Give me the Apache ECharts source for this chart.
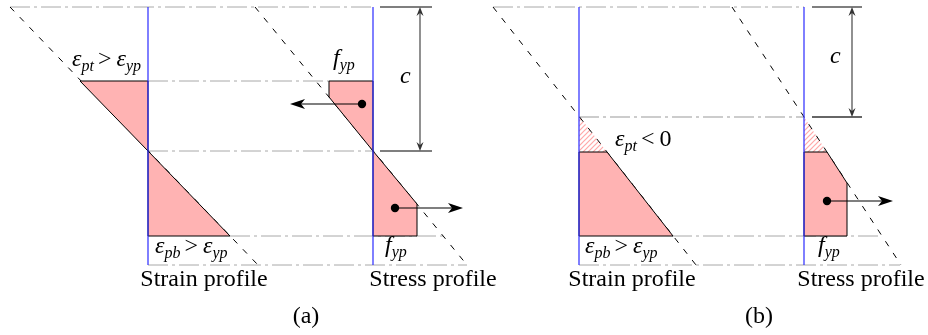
<!DOCTYPE html>
<html><head><meta charset="utf-8">
<script src="https://cdn.jsdelivr.net/npm/echarts@6/dist/echarts.min.js"></script>
<style>html,body{margin:0;padding:0;background:#fff}#c{width:928px;height:335px}</style>
</head><body><div id="c"></div>
<script>
// ---- data (in diagram units = pixel grid of the reference) ----
const refLines = [[10,7,373,7],[148,81,329,81],[148,151,373,151],[230,236,443,236],[148,265,467,265],
  [493,7,804,7],[672,236,882,236],[579,265,900,265]];
const refLinesThick = [[579,117,804,117]];
const neutralAxes = [[148,7,148,265],[373,7,373,265],[579,7,579,265],[804,7,804,265]];
const profileLines = [[10,7,258,265],[255,7,467,265],[493,7,696,265],[732,7,901,265]];
const filledRegions = [
  [[80,81],[148,81],[148,151]],
  [[148,151],[148,236],[230,236]],
  [[329,81],[373,81],[373,151],[329,97]],
  [[373,151],[417,204],[417,236],[373,236]],
  [[579,152],[607,152],[673,236],[579,236]],
  [[804,152],[827,152],[847,183],[847,236],[804,236]]
];
const hatchedRegions = [
  [[579,116],[607,152],[579,152]],
  [[804,117],[827,152],[804,152]]
];
const forces = [[362,104,290,104],[395,208,463,208],[827,201,893,201]];
const dimensions = [[420,7,151],[852,7,117]];
const dimTicks = [[380,432,7],[380,432,151],[812,862,7],[812,862,117]];
const dimTickColors = ['#000','#000','#000','#666'];
const mathLabels = [
  [72,68,'ε|m','pt|s','>|r','ε|m','yp|s'],
  [155,255,'ε|m','pb|s','>|r','ε|m','yp|s'],
  [615,148,'ε|m','pt|s','<|r','0|n'],
  [585,255,'ε|m','pb|s','>|r','ε|m','yp|s'],
  [333,67,'f|m','yp|s'],
  [385,254,'f|m','yp|s'],
  [818,254,'f|m','yp|s'],
  [400,85,'c|m'],
  [830,65,'c|m']
];
const plainLabels = [['Strain profile',204,288],['Stress profile',433,288],['Strain profile',632,288],
  ['Stress profile',861,288],['(a)',306,325],['(b)',759,325]];

// ---- rendering ----
const FAM = "'Liberation Serif','DejaVu Serif',serif";
const measureCtx = document.createElement('canvas').getContext('2d');
function tw(t, font){ measureCtx.font = font; return measureCtx.measureText(t).width; }
const hc = document.createElement('canvas'); hc.width = 5; hc.height = 5;
(function(){ const g = hc.getContext('2d'); g.fillStyle = 'rgba(255,255,255,0)'; g.strokeStyle = '#ffa8a8'; g.lineWidth = 1.2; g.beginPath();
  g.moveTo(0,5); g.lineTo(5,0); g.moveTo(-1,1); g.lineTo(1,-1); g.moveTo(4,6); g.lineTo(6,4); g.stroke(); })();

const chart = echarts.init(document.getElementById('c'), null, {renderer:'canvas'});
function segSeries(arr, style, z){
  return {type:'custom', coordinateSystem:'cartesian2d', clip:false, z:z, silent:true,
    data: arr.map((d,i)=>[d[0],d[1],d[2],d[3],i]),
    renderItem:(p,api)=>{ const a = api.coord([api.value(0),api.value(1)]), b = api.coord([api.value(2),api.value(3)]);
      return {type:'line', shape:{x1:a[0],y1:a[1],x2:b[0],y2:b[1]}, style:Object.assign({fill:null}, style)}; }};
}
function polySeries(arr, style, z){
  return {type:'custom', coordinateSystem:'cartesian2d', clip:false, z:z, silent:true,
    data: arr.map((d,i)=>[d[0][0],d[0][1],i]),
    renderItem:(p,api)=>({type:'polygon', shape:{points: arr[p.dataIndex].map(pt=>api.coord(pt))}, style: style})};
}
function arrowHead(tip, dir, len, hw, notch, fill){
  const n = [-dir[1], dir[0]];
  return {type:'polygon', shape:{points:[tip,
    [tip[0]-dir[0]*len+n[0]*hw, tip[1]-dir[1]*len+n[1]*hw],
    [tip[0]-dir[0]*notch, tip[1]-dir[1]*notch],
    [tip[0]-dir[0]*len-n[0]*hw, tip[1]-dir[1]*len-n[1]*hw]]}, style:{fill:fill}};
}
const series = [
  segSeries(refLines, {stroke:'#a8a8a8', lineWidth:1, lineDash:[20,4,3,4]}, 1),
  segSeries(refLinesThick, {stroke:'#cccccc', lineWidth:2.2, lineDash:[20,4,3,4]}, 1),
  polySeries(hatchedRegions, {fill:{image:hc, repeat:'repeat'}}, 2),
  segSeries(profileLines, {stroke:'#000', lineWidth:1, lineDash:[6,8]}, 3),
  polySeries(filledRegions, {fill:'#ffb3b3', stroke:'#000', lineWidth:1, lineJoin:'miter'}, 4),
  segSeries(neutralAxes, {stroke:'#2a2aff', lineWidth:1.2}, 5),
  {type:'custom', coordinateSystem:'cartesian2d', clip:false, z:6, silent:true,
    data: dimTicks.map((d,i)=>[d[0],d[2],d[1],i]),
    renderItem:(p,api)=>{ const a = api.coord([api.value(0),api.value(1)]), b = api.coord([api.value(2),api.value(1)]);
      return {type:'line', shape:{x1:a[0],y1:a[1],x2:b[0],y2:b[1]}, style:{stroke:dimTickColors[p.dataIndex], lineWidth: p.dataIndex===3?2:1.2}}; }},
  {type:'custom', coordinateSystem:'cartesian2d', clip:false, z:6, silent:true,
    data: dimensions.map((d,i)=>[d[0],d[1],d[2],i]),
    renderItem:(p,api)=>{ const a = api.coord([api.value(0),api.value(1)]), b = api.coord([api.value(0),api.value(2)]);
      return {type:'group', children:[
        {type:'line', shape:{x1:a[0],y1:a[1]+3,x2:b[0],y2:b[1]-3}, style:{stroke:'#555', lineWidth:1.3}},
        arrowHead(a,[0,-1],9,3.5,6,'#333'), arrowHead(b,[0,1],9,3.5,6,'#333')]}; }},
  {type:'custom', coordinateSystem:'cartesian2d', clip:false, z:7, silent:true,
    data: forces.map((d,i)=>[d[0],d[1],d[2],d[3],i]),
    renderItem:(p,api)=>{ const a = api.coord([api.value(0),api.value(1)]), b = api.coord([api.value(2),api.value(3)]);
      const L = Math.hypot(b[0]-a[0], b[1]-a[1]); const dir = [(b[0]-a[0])/L, (b[1]-a[1])/L];
      return {type:'group', children:[
        {type:'line', shape:{x1:a[0],y1:a[1],x2:b[0]-dir[0]*10,y2:b[1]-dir[1]*10}, style:{stroke:'#000', lineWidth:1.2}},
        {type:'circle', shape:{cx:a[0],cy:a[1],r:4.2}, style:{fill:'#000'}},
        arrowHead(b,dir,15,5,11,'#000')]}; }},
  {type:'custom', coordinateSystem:'cartesian2d', clip:false, z:8, silent:true,
    data: mathLabels.map((d,i)=>[d[0],d[1],i]),
    renderItem:(p,api)=>{ const a = api.coord([api.value(0),api.value(1)]); const parts = mathLabels[p.dataIndex].slice(2);
      let x = a[0]; const kids = [];
      parts.forEach((s,k)=>{ const [t,kind] = s.split('|');
        let size = 24, ital = true, dy = 0, padL = 0, padR = 0;
        if (kind==='s'){ size = 16; dy = 4; padR = 1; }
        if (kind==='r'){ ital = false; padL = 3; padR = 5; }
        if (kind==='n'){ ital = false; }
        const font = (ital?'italic ':'') + size + 'px ' + FAM;
        x += padL;
        kids.push({type:'text', style:{x:x, y:a[1]+dy-0.3375*size, text:t, font:font, fill:'#000', align:'left', verticalAlign:'middle'}});
        x += tw(t,font) + padR;
      });
      return {type:'group', children:kids}; }},
  {type:'custom', coordinateSystem:'cartesian2d', clip:false, z:8, silent:true,
    data: plainLabels.map((d,i)=>[d[1],d[2],i]),
    renderItem:(p,api)=>{ const a = api.coord([api.value(0),api.value(1)]);
      return {type:'text', style:{x:a[0], y:a[1]-0.3375*24, text:plainLabels[p.dataIndex][0], font:'24px '+FAM, fill:'#000', align:'center', verticalAlign:'middle'}}; }}
];
chart.setOption({
  animation:false,
  grid:{left:0,right:0,top:0,bottom:0},
  xAxis:{type:'value', min:0, max:928, show:false},
  yAxis:{type:'value', min:0, max:335, inverse:true, show:false},
  series: series
});
</script></body></html>
